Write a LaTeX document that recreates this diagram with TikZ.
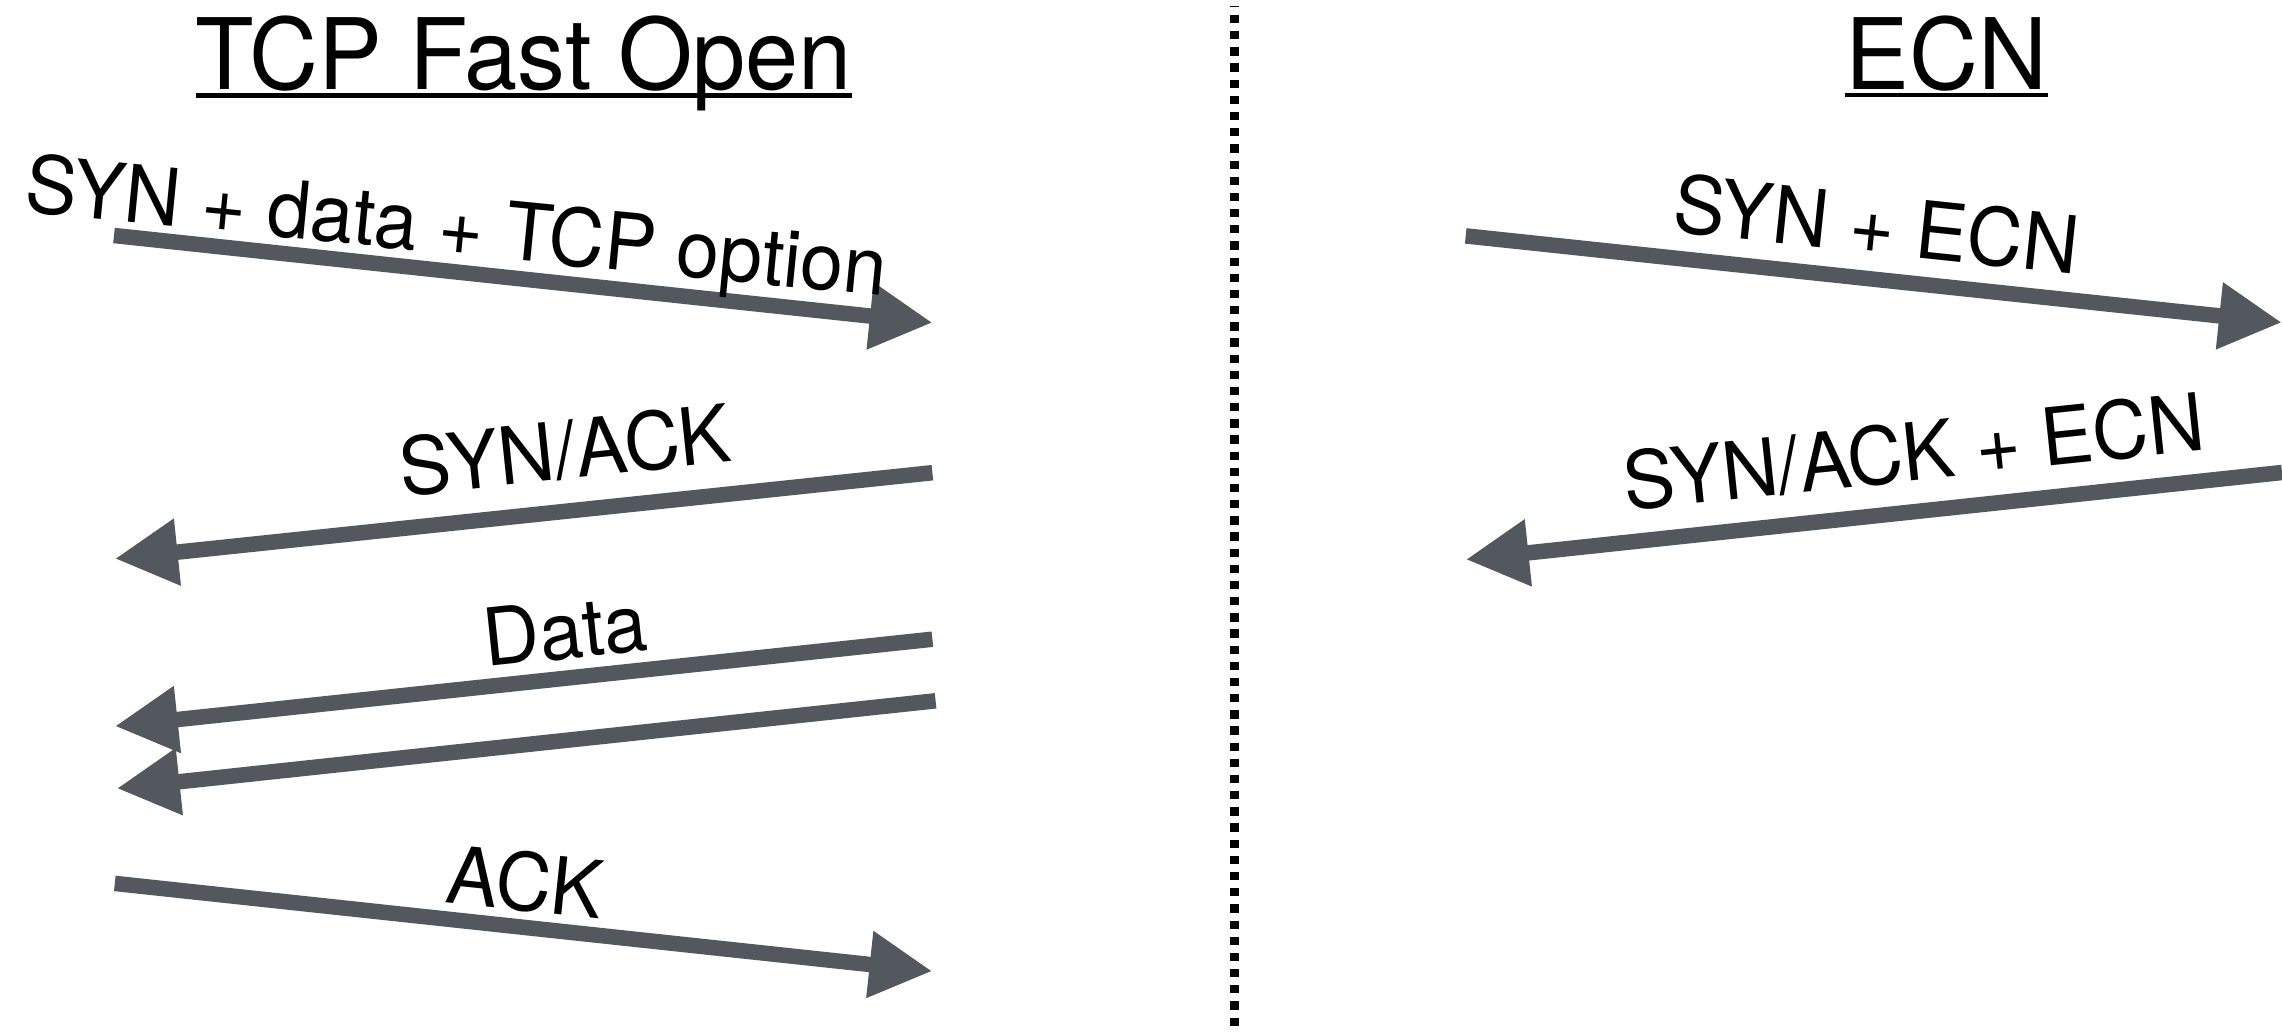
\documentclass[tikz,border=0pt]{standalone}
\usepackage{fontspec}
\setmainfont{TeX Gyre Heros}[FakeStretch=0.97]
\usetikzlibrary{arrows.meta}
\definecolor{arrowgrey}{RGB}{83,87,94}
\tikzset{
  msg/.style={draw=arrowgrey, line width=15.5bp, -{Triangle[length=63bp,width=63bp]}},
  lbl/.style={inner sep=0pt, anchor=base, font=\fontsize{80}{90}\selectfont},
  ttl/.style={inner sep=0pt, anchor=base, font=\fontsize{99}{110}\selectfont},
  uline/.style={line width=4.5bp},
  divider/.style={line width=9bp, dash pattern=on 8.3bp off 7.87bp, dash phase=6.7bp},
}
\begin{document}
\begin{tikzpicture}[x=1bp,y=-1bp]
\useasboundingbox (0,0) rectangle (2282,1033);

% titles
\node[ttl] (t1) at (524,89.3) {TCP Fast Open};
\node[ttl] (t2) at (1946.5,89) {ECN};
\draw[uline] ([yshift=-6.2bp]t1.base west) -- ([yshift=-6.2bp]t1.base east);
\draw[uline] ([yshift=-6.2bp]t2.base west) -- ([yshift=-6.2bp]t2.base east);

% divider
\coordinate (d0) at (1234,5.5);
\coordinate (d1) at (1234,1033);
\draw[divider] (d0) -- (d1);

% left side endpoints
\coordinate (a1s) at (114,235.5);   \coordinate (a1e) at (932.7,322.7);
\coordinate (a2s) at (932.4,472.7); \coordinate (a2e) at (114.8,558.7);
\coordinate (a3s) at (932.4,639.2); \coordinate (a3e) at (114.8,726.2);
\coordinate (a4s) at (935.6,700.8); \coordinate (a4e) at (116.7,788.4);
\coordinate (a5s) at (114.8,883.4); \coordinate (a5e) at (932.4,971.2);
% right side endpoints
\coordinate (b1s) at (1465.7,235.9); \coordinate (b1e) at (2282,322.5);
\coordinate (b2s) at (2282,472.5);   \coordinate (b2e) at (1465.7,559.5);

\draw[msg] (a1s) -- (a1e);
\draw[msg] (a2s) -- (a2e);
\draw[msg] (a3s) -- (a3e);
\draw[msg] (a4s) -- (a4e);
\draw[msg] (a5s) -- (a5e);
\draw[msg] (b1s) -- (b1e);
\draw[msg] (b2s) -- (b2e);

% labels
\node[lbl, rotate=-5.6] (l1) at (454,254) {SYN + data + TCP option};
\node[lbl, rotate=6] (l2) at (568,478.8) {SYN/ACK};
\node[lbl, rotate=6] (l3) at (568,658.4) {Data};
\node[lbl, rotate=-6] (l4) at (522,910.7) {ACK};
\node[lbl, rotate=-6] (r1) at (1873.6,253) {SYN + ECN};
\node[lbl, rotate=6] (r2) at (1916.7,480.4) {SYN/ACK + ECN};
\end{tikzpicture}
\end{document}
